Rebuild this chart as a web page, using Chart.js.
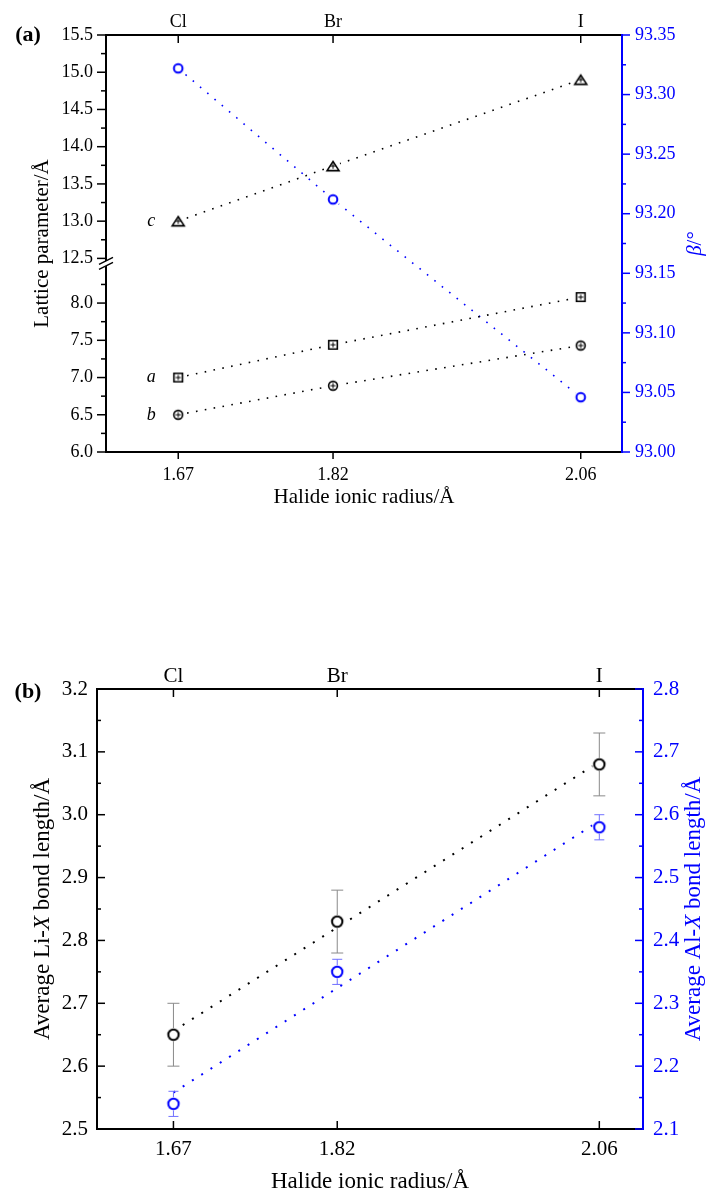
<!DOCTYPE html>
<html>
<head>
<meta charset="utf-8">
<script src="https://cdn.jsdelivr.net/npm/chart.js@4.4.1/dist/chart.umd.min.js"></script>
<style>
    html, body { margin: 0; padding: 0; background: #fff; }
    #page { position: relative; width: 708px; height: 1196px; }
    canvas { position: absolute; left: 0; }
    #latticeChart { top: 0; }
    #bondChart { top: 600px; }
</style>
</head>
<body>
<div id="page">
    <canvas id="latticeChart" width="708" height="530"></canvas>
    <canvas id="bondChart" width="708" height="596"></canvas>
</div>
<script>
// Values
const halides = ['Cl', 'Br', 'I'];
const radii = [1.67, 1.82, 2.06];

// (a) lattice parameters (Å) and beta angle (°)
const latticeA = [7.00, 7.44, 8.08];
const latticeB = [6.50, 6.89, 7.43];
const latticeC = [13.00, 13.74, 14.90];
const betaAngle = [93.322, 93.212, 93.046];

const lowerTicks = [6.0, 6.5, 7.0, 7.5, 8.0];
const upperTicks = [12.5, 13.0, 13.5, 14.0, 14.5, 15.0, 15.5];
const betaTicks = [93.00, 93.05, 93.10, 93.15, 93.20, 93.25, 93.30, 93.35];

// (b) average bond lengths (Å) with error bars and their linear fits
const liBond = [2.65, 2.83, 3.08];
const liBondErr = [0.05, 0.05, 0.05];
const alBond = [2.14, 2.35, 2.58];
const alBondErr = [0.02, 0.02, 0.02];
const fitRadii = [1.67, 2.06];
const liFit = [2.656, 3.084];
const alFit = [2.158, 2.590];

const liTicks = [2.5, 2.6, 2.7, 2.8, 2.9, 3.0, 3.1, 3.2];
const alTicks = [2.1, 2.2, 2.3, 2.4, 2.5, 2.6, 2.7, 2.8];

const SERIF = "'Liberation Serif', 'Times New Roman', serif";
const BLUE = '#0000ff';
const BLACK = '#000000';

/**
 * Small helpers
 */
const pairs = (xs, ys) => xs.map((x, i) => ({ x, y: ys[i] }));
const midpoints = (t) => t.slice(1).map((v, i) => (v + t[i]) / 2);
const fixTicks = (values) => (axis) => { axis.ticks = values.map(value => ({ value })); };
const fixWidth = (w) => (axis) => { axis.width = w; };
const fixHeight = (h) => (axis) => { axis.height = h; };
const noGrid = { display: false, drawTicks: false };

/**
 * Open marker drawn into a small canvas, with a white halo so the
 * dotted lines stop short of the symbol (Origin style)
 */
function makeMarker(shape, color, r, lw, halo, inner) {
    const size = 2 * Math.ceil(halo + 2);
    const c = size / 2;
    const cv = document.createElement('canvas');
    cv.width = cv.height = size;
    const g = cv.getContext('2d');
    g.fillStyle = '#fff';
    g.beginPath();
    g.arc(c, c, halo, 0, Math.PI * 2);
    g.fill();
    g.strokeStyle = color;
    g.lineWidth = lw;
    g.beginPath();
    if (shape === 'circle') {
        g.arc(c, c, r, 0, Math.PI * 2);
    } else if (shape === 'square') {
        g.rect(c - r, c - r, 2 * r, 2 * r);
    } else {
        g.moveTo(c, c - r);
        g.lineTo(c + r * 1.3, c + r);
        g.lineTo(c - r * 1.3, c + r);
        g.closePath();
    }
    g.stroke();
    if (inner) {
        g.lineWidth = 1;
        g.beginPath();
        g.moveTo(c - r * 0.6, c);
        g.lineTo(c + r * 0.6, c);
        g.moveTo(c, c - r * 0.6);
        g.lineTo(c, c + r * 0.6);
        g.stroke();
    }
    return cv;
}

/**
 * Tick marks (major + minor), drawn in or out of the frame
 */
const axisTicks = {
    id: 'axisTicks',
    afterDraw(chart, args, opts) {
        const ctx = chart.ctx;
        ctx.save();
        ctx.lineWidth = 1.5;
        (opts.marks || []).forEach(m => {
            const s = chart.scales[m.scale];
            const out = (s.position === 'left' || s.position === 'top') ? -1 : 1;
            const d = m.inward ? -out : out;
            const edge = { left: s.right, right: s.left, top: s.bottom, bottom: s.top }[s.position];
            ctx.strokeStyle = m.color;
            const draw = (values, len) => values.forEach(v => {
                const p = s.getPixelForValue(v);
                ctx.beginPath();
                if (s.isHorizontal()) {
                    ctx.moveTo(p, edge);
                    ctx.lineTo(p, edge + d * len);
                } else {
                    ctx.moveTo(edge, p);
                    ctx.lineTo(edge + d * len, p);
                }
                ctx.stroke();
            });
            draw(m.major, m.len);
            draw(m.minor || [], m.minorLen || 0);
        });
        ctx.restore();
    }
};

/**
 * Y titles rotated like Origin (both read bottom to top), with italic parts
 */
const yTitles = {
    id: 'yTitles',
    afterDraw(chart, args, opts) {
        const ctx = chart.ctx;
        const area = chart.chartArea;
        (opts.items || []).forEach(t => {
            ctx.save();
            ctx.translate(t.x, (area.top + area.bottom) / 2);
            ctx.rotate(-Math.PI / 2);
            ctx.fillStyle = t.color;
            ctx.textBaseline = 'middle';
            ctx.textAlign = 'left';
            const fonts = t.parts.map(p => `${p.italic ? 'italic ' : ''}${t.size}px ${SERIF}`);
            let w = 0;
            t.parts.forEach((p, i) => { ctx.font = fonts[i]; w += ctx.measureText(p.text).width; });
            let x = -w / 2;
            t.parts.forEach((p, i) => {
                ctx.font = fonts[i];
                ctx.fillText(p.text, x, 0);
                x += ctx.measureText(p.text).width;
            });
            ctx.restore();
        });
    }
};

/**
 * Panel letter and the italic series letters next to the first points
 */
const textLabels = {
    id: 'textLabels',
    afterDraw(chart, args, opts) {
        const ctx = chart.ctx;
        ctx.save();
        ctx.textAlign = 'center';
        ctx.textBaseline = 'middle';
        ctx.fillStyle = BLACK;
        if (opts.panel) {
            ctx.font = `bold 22px ${SERIF}`;
            ctx.fillText(opts.panel.text, opts.panel.x, opts.panel.y);
        }
        ctx.font = `italic 18px ${SERIF}`;
        (opts.series || []).forEach(s => {
            const x = chart.scales.x.getPixelForValue(s.x) + s.dx;
            const y = chart.scales[s.axis].getPixelForValue(s.y);
            ctx.fillText(s.text, x, y);
        });
        ctx.restore();
    }
};

/**
 * Axis break marks on the left axis
 */
const axisBreak = {
    id: 'axisBreak',
    afterDraw(chart, args, opts) {
        if (!opts.scale) return;
        const ctx = chart.ctx;
        const s = chart.scales[opts.scale];
        const x = s.right;
        const y = s.top + opts.offset;
        ctx.save();
        ctx.fillStyle = '#fff';
        ctx.beginPath();
        ctx.moveTo(x - 3, y - 2.5 + 2);
        ctx.lineTo(x + 3, y - 2.5 - 2);
        ctx.lineTo(x + 3, y + 2.5 - 2);
        ctx.lineTo(x - 3, y + 2.5 + 2);
        ctx.closePath();
        ctx.fill();
        ctx.strokeStyle = BLACK;
        ctx.lineWidth = 1.5;
        [-2.5, 2.5].forEach(o => {
            ctx.beginPath();
            ctx.moveTo(x - 7, y + o + 3.5);
            ctx.lineTo(x + 7, y + o - 3.5);
            ctx.stroke();
        });
        ctx.restore();
    }
};

/**
 * Vertical error bars with caps, leaving the marker itself clear
 */
const errorBars = {
    id: 'errorBars',
    afterDatasetsDraw(chart) {
        const ctx = chart.ctx;
        ctx.save();
        chart.data.datasets.forEach((ds, i) => {
            if (!ds.errors) return;
            const yScale = chart.scales[ds.yAxisID];
            ctx.strokeStyle = ds.errorColor;
            ctx.lineWidth = 1;
            chart.getDatasetMeta(i).data.forEach((pt, j) => {
                const v = ds.data[j].y;
                const top = yScale.getPixelForValue(v + ds.errors[j]);
                const bottom = yScale.getPixelForValue(v - ds.errors[j]);
                const gap = ds.errorGap;
                const cap = ds.errorCap;
                ctx.beginPath();
                ctx.moveTo(pt.x, top);
                ctx.lineTo(pt.x, Math.min(pt.y - gap, bottom));
                ctx.moveTo(pt.x, Math.max(pt.y + gap, top));
                ctx.lineTo(pt.x, bottom);
                ctx.moveTo(pt.x - cap, top);
                ctx.lineTo(pt.x + cap, top);
                ctx.moveTo(pt.x - cap, bottom);
                ctx.lineTo(pt.x + cap, bottom);
                ctx.stroke();
            });
        });
        ctx.restore();
    }
};

const dotted = (color, w, gap) => ({
    borderColor: color,
    borderWidth: w,
    borderDash: [w, gap],
    tension: 0,
    fill: false
});

const tickFont = (size) => ({ family: SERIF, size });

// ---------- (a) lattice parameters ----------
new Chart(document.getElementById('latticeChart'), {
    type: 'line',
    data: {
        datasets: [
            {
                label: 'c',
                data: pairs(radii, latticeC),
                yAxisID: 'yUpper',
                ...dotted(BLACK, 1.6, 7.4),
                pointStyle: makeMarker('triangle', BLACK, 4.6, 1.6, 7.5, true)
            },
            {
                label: 'a',
                data: pairs(radii, latticeA),
                yAxisID: 'yLower',
                ...dotted(BLACK, 1.6, 7.4),
                pointStyle: makeMarker('square', BLACK, 4.3, 1.6, 7.5, true)
            },
            {
                label: 'b',
                data: pairs(radii, latticeB),
                yAxisID: 'yLower',
                ...dotted(BLACK, 1.6, 7.4),
                pointStyle: makeMarker('circle', BLACK, 4.4, 1.6, 7.5, true)
            },
            {
                label: 'β',
                data: pairs(radii, betaAngle),
                yAxisID: 'yBeta',
                ...dotted(BLUE, 1.6, 7.9),
                pointStyle: makeMarker('circle', BLUE, 4.3, 2, 7.5, false)
            }
        ]
    },
    options: {
        responsive: false,
        animation: false,
        layout: { padding: 0 },
        plugins: {
            legend: { display: false },
            tooltip: { enabled: false },
            axisTicks: {
                marks: [
                    { scale: 'x', major: radii, len: 7, color: BLACK },
                    { scale: 'x2', major: radii, len: 8, inward: true, color: BLACK },
                    { scale: 'yLower', major: lowerTicks, minor: midpoints([...lowerTicks, 8.5]), len: 9, minorLen: 5, color: BLACK },
                    { scale: 'yUpper', major: upperTicks, minor: midpoints(upperTicks), len: 9, minorLen: 5, color: BLACK },
                    { scale: 'yBeta', major: betaTicks, minor: midpoints(betaTicks), len: 8, minorLen: 4, color: BLUE }
                ]
            },
            yTitles: {
                items: [
                    { x: 42, size: 21, color: BLACK, parts: [{ text: 'Lattice parameter/Å' }] },
                    { x: 695, size: 21, color: BLUE, parts: [{ text: 'β', italic: true }, { text: '/°' }] }
                ]
            },
            textLabels: {
                panel: { text: '(a)', x: 28, y: 35 },
                series: [
                    { text: 'c', x: radii[0], y: latticeC[0], axis: 'yUpper', dx: -27 },
                    { text: 'a', x: radii[0], y: latticeA[0], axis: 'yLower', dx: -27 },
                    { text: 'b', x: radii[0], y: latticeB[0], axis: 'yLower', dx: -27 }
                ]
            },
            axisBreak: { scale: 'yLower', offset: 5 }
        },
        scales: {
            x: {
                type: 'linear',
                position: 'bottom',
                min: 1.6,
                max: 2.1,
                afterBuildTicks: fixTicks(radii),
                afterFit: fixHeight(78),
                grid: noGrid,
                border: { color: BLACK, width: 2 },
                ticks: { font: tickFont(18), color: BLACK, padding: 12, maxRotation: 0, autoSkip: false, callback: v => v.toFixed(2) },
                title: { display: true, text: 'Halide ionic radius/Å', font: tickFont(21), color: BLACK, padding: { top: 0, bottom: 20 } }
            },
            x2: {
                type: 'linear',
                position: 'top',
                min: 1.6,
                max: 2.1,
                afterBuildTicks: fixTicks(radii),
                afterFit: fixHeight(35),
                grid: noGrid,
                border: { color: BLACK, width: 2 },
                ticks: { font: tickFont(18), color: BLACK, padding: 2, maxRotation: 0, autoSkip: false, callback: (v, i) => halides[i] }
            },
            yLower: {
                type: 'linear',
                position: 'left',
                stack: 'lattice',
                stackWeight: 2.6,
                min: 6.0,
                max: 8.6,
                afterBuildTicks: fixTicks(lowerTicks),
                afterFit: fixWidth(106),
                grid: noGrid,
                border: { color: BLACK, width: 2 },
                ticks: { font: tickFont(18), color: BLACK, padding: 13, autoSkip: false, callback: v => v.toFixed(1) }
            },
            yUpper: {
                type: 'linear',
                position: 'left',
                stack: 'lattice',
                stackWeight: 3,
                min: 12.5,
                max: 15.5,
                afterBuildTicks: fixTicks(upperTicks),
                afterFit: fixWidth(106),
                grid: noGrid,
                border: { color: BLACK, width: 2 },
                ticks: { font: tickFont(18), color: BLACK, padding: 13, autoSkip: false, callback: v => v.toFixed(1) }
            },
            yBeta: {
                type: 'linear',
                position: 'right',
                min: 93.0,
                max: 93.35,
                afterBuildTicks: fixTicks(betaTicks),
                afterFit: fixWidth(86),
                grid: noGrid,
                border: { color: BLUE, width: 2 },
                ticks: { font: tickFont(18), color: BLUE, padding: 13, autoSkip: false, callback: v => v.toFixed(2) }
            }
        }
    },
    plugins: [axisTicks, yTitles, textLabels, axisBreak]
});

// ---------- (b) bond lengths ----------
new Chart(document.getElementById('bondChart'), {
    type: 'line',
    data: {
        datasets: [
            {
                label: 'Li-X',
                data: pairs(radii, liBond),
                yAxisID: 'yLi',
                showLine: false,
                pointStyle: makeMarker('circle', BLACK, 5.2, 2, 7.5, false),
                errors: liBondErr,
                errorColor: '#8a8a8a',
                errorGap: 6.5,
                errorCap: 6
            },
            {
                label: 'Al-X',
                data: pairs(radii, alBond),
                yAxisID: 'yAl',
                showLine: false,
                pointStyle: makeMarker('circle', BLUE, 5.2, 2, 7.5, false),
                errors: alBondErr,
                errorColor: '#7070ff',
                errorGap: 6.5,
                errorCap: 5
            },
            {
                label: 'Li-X fit',
                data: pairs(fitRadii, liFit),
                yAxisID: 'yLi',
                pointRadius: 0,
                ...dotted(BLACK, 2, 9)
            },
            {
                label: 'Al-X fit',
                data: pairs(fitRadii, alFit),
                yAxisID: 'yAl',
                pointRadius: 0,
                ...dotted(BLUE, 2, 9)
            }
        ]
    },
    options: {
        responsive: false,
        animation: false,
        layout: { padding: 0 },
        plugins: {
            legend: { display: false },
            tooltip: { enabled: false },
            axisTicks: {
                marks: [
                    { scale: 'x', major: radii, len: 8, inward: true, color: BLACK },
                    { scale: 'x2', major: radii, len: 8, inward: true, color: BLACK },
                    { scale: 'yLi', major: liTicks, minor: midpoints(liTicks), len: 8, minorLen: 4, inward: true, color: BLACK },
                    { scale: 'yAl', major: alTicks, minor: midpoints(alTicks), len: 8, minorLen: 4, inward: true, color: BLUE }
                ]
            },
            yTitles: {
                items: [
                    { x: 43, size: 23, color: BLACK, parts: [{ text: 'Average Li-' }, { text: 'X', italic: true }, { text: ' bond length/Å' }] },
                    { x: 694, size: 23, color: BLUE, parts: [{ text: 'Average Al-' }, { text: 'X', italic: true }, { text: ' bond length/Å' }] }
                ]
            },
            textLabels: {
                panel: { text: '(b)', x: 28, y: 92 }
            }
        },
        scales: {
            x: {
                type: 'linear',
                position: 'bottom',
                min: 1.6,
                max: 2.1,
                afterBuildTicks: fixTicks(radii),
                afterFit: fixHeight(67),
                grid: noGrid,
                border: { color: BLACK, width: 2 },
                ticks: { font: tickFont(21), color: BLACK, padding: 8, maxRotation: 0, autoSkip: false, callback: v => v.toFixed(2) },
                title: { display: true, text: 'Halide ionic radius/Å', font: tickFont(23), color: BLACK, padding: { top: 0, bottom: 0 } }
            },
            x2: {
                type: 'linear',
                position: 'top',
                min: 1.6,
                max: 2.1,
                afterBuildTicks: fixTicks(radii),
                afterFit: fixHeight(89),
                grid: noGrid,
                border: { color: BLACK, width: 2 },
                ticks: { font: tickFont(21), color: BLACK, padding: 0, maxRotation: 0, autoSkip: false, callback: (v, i) => halides[i] }
            },
            yLi: {
                type: 'linear',
                position: 'left',
                min: 2.5,
                max: 3.2,
                afterBuildTicks: fixTicks(liTicks),
                afterFit: fixWidth(97),
                grid: noGrid,
                border: { color: BLACK, width: 2 },
                ticks: { font: tickFont(21), color: BLACK, padding: 9, autoSkip: false, callback: v => v.toFixed(1) }
            },
            yAl: {
                type: 'linear',
                position: 'right',
                min: 2.1,
                max: 2.8,
                afterBuildTicks: fixTicks(alTicks),
                afterFit: fixWidth(65),
                grid: noGrid,
                border: { color: BLUE, width: 2 },
                ticks: { font: tickFont(21), color: BLUE, padding: 10, autoSkip: false, callback: v => v.toFixed(1) }
            }
        }
    },
    plugins: [axisTicks, yTitles, textLabels, errorBars]
});
</script>
</body>
</html>
